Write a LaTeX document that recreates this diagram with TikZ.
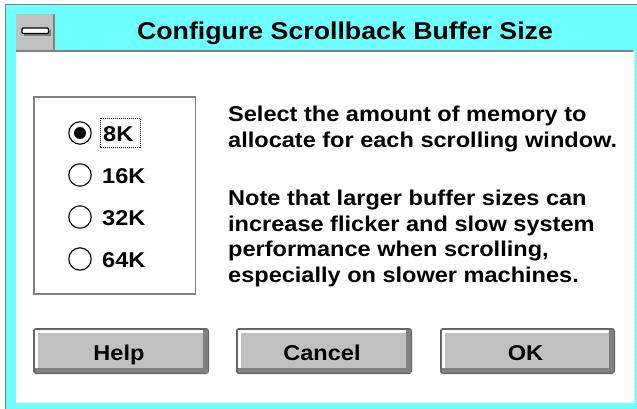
\documentclass[tikz,border=0pt]{standalone}
\usepackage{fontspec}
\setmainfont{Liberation Sans}[FakeStretch=1.1]
\definecolor{frameCyan}{RGB}{110,255,255}
\definecolor{faceGray}{RGB}{192,192,192}
\definecolor{shadeGray}{RGB}{128,128,128}
\definecolor{edgeGray}{RGB}{100,100,100}
\tikzset{
  uitext/.style={inner sep=0pt, anchor=base west,
    font=\fontsize{21.4}{25}\selectfont\bfseries},
  titletext/.style={inner sep=0pt, anchor=base,
    font=\fontsize{24.3}{28}\selectfont\bfseries},
  btnlabel/.style={inner sep=0pt, anchor=base,
    font=\fontsize{21.4}{25}\selectfont\bfseries},
  radioring/.style={draw=black, line width=1.1pt, fill=white},
  groupframe/.style={draw=shadeGray, line width=1.3pt},
  focusbox/.style={draw=black, line width=0.8pt, dash pattern=on 1pt off 1pt},
}
% push button: bevelled face with a named label node
\newcommand\dlgbutton[6]{%
  \fill[edgeGray, rounded corners=3pt] (#2,#3) rectangle (#4,#5);
  \fill[shadeGray] (#2+1.5,#3+1.5) rectangle (#4-1.5,#5-1.5);
  \fill[white] (#2+1.5,#3+1.5) rectangle (#4-6,#5-6);
  \fill[faceGray] (#2+4.5,#3+4.5) rectangle (#4-6,#5-6);
  \node[btnlabel] (#1) at ({(#2+#4)/2-2},360) {#6};
}
\begin{document}
\begin{tikzpicture}[x=1pt,y=-1pt]
\useasboundingbox (0,0) rectangle (637,409);
\fill[white] (0,0) rectangle (637,409);

% window frame
\fill[frameCyan] (5,4) rectangle (637,409);
\draw[shadeGray, line width=1.2pt] (5.6,409) -- (5.6,4.6) -- (637,4.6);
% client area
\fill[white] (16,52) rectangle (634,403);
\draw[white, line width=0.8pt, dash pattern=on 1pt off 1pt] (634.5,52) -- (634.5,403);
% title bar underline
\draw[shadeGray, line width=1.8pt] (16,51) -- (633,51);

% system menu box
\fill[faceGray] (16,14) rectangle (54,50.5);
\draw[shadeGray, line width=1.5pt] (54,14) -- (54,51);
\fill[shadeGray] (24,30) rectangle (51,36);
\draw[black, line width=1.2pt, fill=white, rounded corners=1pt] (22,28) rectangle (48.5,33.5);

% caption
\node[titletext] (caption) at (345,40) {Configure Scrollback Buffer Size};

% radio group
\draw[groupframe] (34,97) rectangle (195.5,294);
\draw[radioring] (80,133) circle[radius=11.2pt];
\fill[black] (80,133) circle[radius=6pt];
\draw[radioring] (80,175) circle[radius=11.2pt];
\draw[radioring] (80,217) circle[radius=11.2pt];
\draw[radioring] (80,259) circle[radius=11.2pt];
\node[uitext] (k8) at (103,141.5) {8K};
\node[uitext] (k16) at (102,183.5) {16K};
\node[uitext] (k32) at (102,225.5) {32K};
\node[uitext] (k64) at (102,267.5) {64K};
\draw[focusbox] (100,118) rectangle (140,147);

% explanatory text
\node[uitext] (l1) at (228,122) {Select the amount of memory to};
\node[uitext] (l2) at (228,148) {allocate for each scrolling window.};
\node[uitext] (l3) at (228,205) {Note that larger buffer sizes can};
\node[uitext] (l4) at (228,231) {increase flicker and slow system};
\node[uitext] (l5) at (228,256.5) {performance when scrolling,};
\node[uitext] (l6) at (228,282) {especially on slower machines.};

% push buttons
\dlgbutton{help}{33}{328}{209}{374}{Help}
\dlgbutton{cancel}{236}{328}{412}{374}{Cancel}
\dlgbutton{ok}{440}{328}{615}{374}{OK}
\end{tikzpicture}
\end{document}
